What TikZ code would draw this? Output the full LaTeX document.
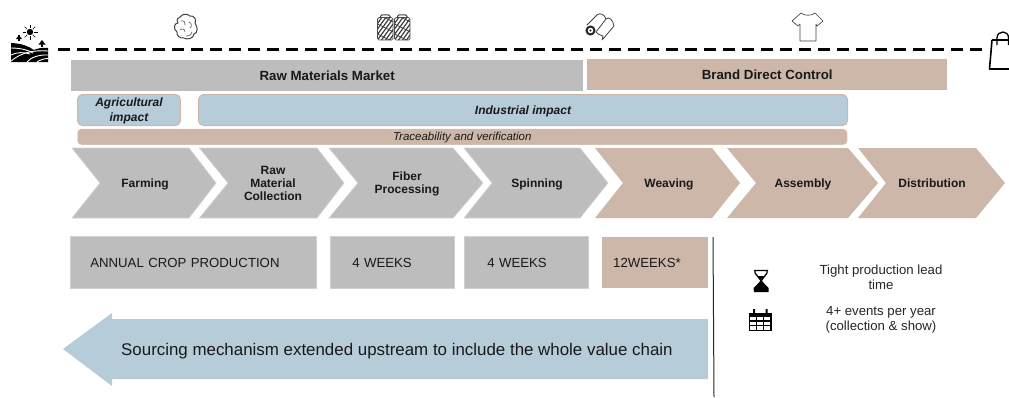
\documentclass[tikz,border=0pt]{standalone}
\usepackage{fontspec}
\setmainfont{Liberation Sans}
\definecolor{gbar}{HTML}{BDBDBD}
\definecolor{tan}{HTML}{CDB7A9}
\definecolor{blu}{HTML}{B6CCD9}
\newcommand{\fs}[2]{\fontsize{#1}{#2}\selectfont}
\newcommand{\chev}[8]{%
  \fill[#6] (#2,148) -- (#4,148) -- (#5,183) -- (#4,218) -- (#2,218) -- (#3,183) -- cycle;
  \node[steplabel] (#1) at (#7) {#8};}
\tikzset{
  grayshape/.style={fill=gbar,draw=gbar!70!white,line width=0.7pt},
  tanshape/.style={fill=tan},
  steplabel/.style={font=\fs{12}{13}\bfseries,align=center,inner sep=0pt,text=black!90,text depth=0pt},
  bar/.style={anchor=north west,inner sep=0pt,font=\fs{13.3}{15}\bfseries,text=black!90},
  impact/.style={anchor=north west,inner sep=0pt,fill=blu,draw=tan,line width=1pt,rounded corners=5pt,font=\fs{12}{15}\bfseries\itshape,align=center,text=black!90,text depth=0pt},
  trace/.style={anchor=north west,inner sep=0pt,fill=tan,draw=white,densely dotted,line width=0.6pt,rounded corners=4pt,font=\fs{11.5}{13}\itshape,text=black!90,text depth=0pt},
  week/.style={anchor=north west,align=left,inner ysep=0pt,font=\fs{13.2}{15},text=black!90,text height=10pt,text depth=0.4pt},
  note/.style={inner sep=0pt,align=center,font=\fs{13.2}{14.8},text=black!85},
  icon/.style={line join=round,line cap=round},
}
\begin{document}
\begin{tikzpicture}[x=1pt,y=-1pt]
\useasboundingbox (0,0) rectangle (1009,397);
% timeline
\coordinate (lineA) at (58,49.5);
\coordinate (lineB) at (982,49.5);
\draw[line width=2.6pt,dash pattern=on 12pt off 7pt] (lineA) -- (lineB);
% top bars
\node[bar,fill=gbar,minimum width=512pt,minimum height=31pt] (raw) at (71,60) {Raw Materials Market};
\node[bar,fill=tan,minimum width=360pt,minimum height=31pt] (brand) at (587,59) {Brand Direct Control};
% impact
\node[impact,minimum width=103pt,minimum height=31pt] (agri) at (77,94) {Agricultural\\impact};
\node[impact,minimum width=649pt,minimum height=31pt] (indu) at (198,94) {Industrial impact};
\node[trace,minimum width=770pt,minimum height=16pt] (trac) at (77,128.5) {Traceability and verification};
% chevrons
\chev{farm}{72}{100}{189}{216}{grayshape}{145,183}{Farming}
\chev{coll}{199.5}{228}{317}{344}{grayshape}{273,183}{Raw\\Material\\Collection}
\chev{fibe}{329}{358}{453}{483}{grayshape}{407,182.5}{Fiber\\Processing}
\chev{spin}{464}{492}{580}{608}{grayshape}{537,183}{Spinning}
\chev{weav}{595}{623}{712}{740}{tanshape}{669,183}{Weaving}
\chev{asse}{727}{756}{848}{878}{tanshape}{803,183}{Assembly}
\chev{dist}{858}{886}{976}{1005}{tanshape}{932,183}{Distribution}
% durations
\node[week,fill=gbar,draw=gbar!70!white,line width=0.7pt,minimum height=52pt,text width=206pt,inner xsep=20pt] (w1) at (70,236) {ANNUAL CROP PRODUCTION};
\node[week,fill=gbar,draw=gbar!70!white,line width=0.7pt,minimum height=52pt,text width=80pt,inner xsep=22pt] (w2) at (330,236) {4 WEEKS};
\node[week,fill=gbar,draw=gbar!70!white,line width=0.7pt,minimum height=52pt,text width=78pt,inner xsep=23pt] (w3) at (464,236) {4 WEEKS};
\node[week,fill=tan,minimum height=51pt,text width=84pt,inner xsep=11pt] (w4) at (602,237) {12WEEKS*};
% separator
\coordinate (sepA) at (713,237);
\coordinate (sepB) at (714,397);
\draw[line width=1pt,black!85] (sepA) -- (sepB);
% big arrow
\fill[blu] (63,349) -- (112,313) -- (112,319) -- (708,319) -- (708,379) -- (112,379) -- (112,386) -- cycle;
\node[anchor=west,inner sep=0pt,font=\fs{16.9}{18},text=black!90,text depth=0pt] (src) at (121,349) {Sourcing mechanism extended upstream to include the whole value chain};
% notes
\node[note] (n1) at (881,277.5) {Tight production lead\\time};
\node[note] (n2) at (881,319.5) {4+ events per year\\(collection \& show)};
% farm icon
\fill (30,32) circle (3.2pt);
\foreach \a in {0,45,...,315} \draw[line width=0.7pt] (30,32) ++(\a:4pt) -- ++(\a:3.5pt);
\fill (17.8,35) rectangle (20.2,41);
\fill (19,35) -- (16,39) -- (22,39) -- cycle;
\fill (42,40) -- (38.5,44.5) -- (45.5,44.5) -- cycle; \fill (41,44) rectangle (43,47);
\fill (11,43) .. controls (22,43.5) and (28,46) .. (34,50) .. controls (38,48) and (43,47.5) .. (48,48) -- (48,62) -- (11,62) -- cycle;
\draw[white,line width=0.9pt] (11,48) .. controls (20,48) and (28,50) .. (33,53);
\draw[white,line width=0.9pt] (11,55) .. controls (17,52) and (24,52) .. (30,54);
\draw[white,line width=0.9pt] (11,61) .. controls (22,52) and (34,50) .. (48,51);
\draw[white,line width=0.9pt] (27,62) .. controls (31,57) and (40,54.5) .. (48,55);
\draw[white,line width=0.9pt] (37,62) .. controls (40,60) and (44,58.5) .. (48,58.5);
% cotton icon
\draw[icon,black!75,line width=1pt,fill=white] (180,17) .. controls (183,13) and (188,14) .. (190,16) .. controls (194,15) and (197,20) .. (195,23) .. controls (198,27) and (198,33) .. (194,34) .. controls (194,39) and (186,40) .. (184,38) .. controls (180,39) and (176,35) .. (177,32) .. controls (173,29) and (174,23) .. (178,23) .. controls (176,20) and (178,17) .. (180,17) -- cycle;
\draw[icon,black!60,line width=0.7pt] (181,21) .. controls (184,20) and (186,23) .. (185,25) (189,22) .. controls (192,23) and (192,27) .. (190,28) (180,30) .. controls (182,28) and (185,29) .. (185,32) (186,36) .. controls (190,36) and (192,34) .. (192,32);
% spools icon
\foreach \sx in {377.5,394.5}{
  \begin{scope}
  \clip (\sx+0.5,18) -- (\sx+15,18) -- (\sx+15.5,22) -- (\sx+15.5,38) -- (\sx+14,40) -- (\sx+1.5,40) -- (\sx,38) -- (\sx,22) -- cycle;
  \foreach \k in {-20,-16,...,36} \draw[black!75,line width=1.2pt] (\sx+\k,40) -- ++(16,-22);
  \foreach \k in {-4,6,16} \draw[black!75,line width=0.8pt] (\sx,18+\k) -- ++(16,8);
  \end{scope}
  \draw[black!70,line width=0.7pt,rounded corners=1.5pt] (\sx,17.5) -- (\sx+15.5,17.5) -- (\sx+15.5,40) -- (\sx,40) -- cycle;
  \draw[black!75,line width=1pt,rounded corners=1.5pt] (\sx+3,17.5) -- (\sx+3,14.8) -- (\sx+12.5,14.8) -- (\sx+12.5,17.5);
}
% fabric roll icon
\draw[icon,black!75,line width=0.8pt] (587,25) -- (597,15) .. controls (600,12) and (605,15) .. (606,19) .. controls (609,16) and (613,20) .. (614,26) -- (603,39) (606,19) -- (596,32) (602,40) -- (603,36) .. controls (600,35) and (597,34) .. (596,32);
\draw[black!85,line width=2pt] (590.5,30.5) circle (4pt);
\fill[black!85] (590.5,30.5) circle (1.2pt);
% tee icon
\draw[icon,black!75,line width=0.65pt] (801,13) .. controls (804,16) and (812,16) .. (815,13) -- (823,21) -- (817,26) -- (816,24) -- (816,41) -- (800,41) -- (800,24) -- (798,26) -- (792,21) -- cycle;
% bag icon
\draw[line width=1.6pt,line join=round] (992,40) -- (989.5,69) -- (1009,69) (992,40) -- (1009,40);
\draw[line width=1.3pt] (997,45) -- (997,38) .. controls (997,34) and (1000,32) .. (1003,32) .. controls (1006,32) and (1008.5,34) .. (1008.5,38) -- (1008.5,45);
% hourglass icon
\draw[line width=1.3pt,line join=round] (754,270.5) -- (768,270.5) (755,271) -- (755,273) -- (767.5,289) (767,271) -- (767,273) -- (755,289);
\fill (754,292) -- (768.5,292) -- (768.5,288) -- (761,280.5) -- (753.5,288) -- cycle;
\fill (757,276) -- (765,276) -- (761,280) -- cycle;
% calendar icon
\fill (749,312.5) rectangle (771.5,317);
\fill (753,309) rectangle (755.2,313) (765.5,309) rectangle (767.7,313);
\draw[line width=1.3pt] (749.6,316) rectangle (770.9,330.5);
\draw[line width=1.2pt] (749.6,321) -- (770.9,321) (749.6,325.8) -- (770.9,325.8) (756.7,316) -- (756.7,330.5) (763.8,316) -- (763.8,330.5);
\end{tikzpicture}
\end{document}
